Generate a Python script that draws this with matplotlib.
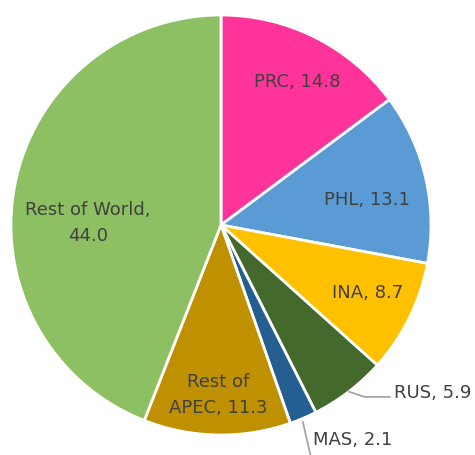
import numpy as np
import matplotlib.pyplot as plt

# data
names = ["PRC", "PHL", "INA", "RUS", "MAS", "Rest of\nAPEC", "Rest of World,\n"]
values = np.array([14.8, 13.1, 8.7, 5.9, 2.1, 11.3, 44.0])
colors = ["#FF3399", "#5B9BD5", "#FFC000", "#436A2C", "#255E91", "#BF9000", "#8DC062"]

# label placement: radius fraction and angle tweak (deg); None = outside with leader
lab_r = [0.774, 0.706, 0.77, None, None, 0.81, 0.633]
lab_da = [-1.4, -3.4, 1.4, 0, 0, 0, 10]

fig = plt.figure(figsize=(4.75, 4.55), dpi=100)
ax = fig.add_axes([11 / 475, 20 / 455, 420 / 475, 420 / 455])

wedges, _ = ax.pie(values, colors=colors, startangle=90, counterclock=False,
                   radius=1.0, wedgeprops=dict(edgecolor="white", linewidth=2))
ax.set_xlim(-1, 1)
ax.set_ylim(-1, 1)
ax.set_aspect("equal")
ax.axis("off")

txt = "#404040"
fs = 13


def make_label(i):
    n = names[i]
    if n.endswith("\n"):
        return f"{n}{values[i]:.1f}"
    return f"{n}, {values[i]:.1f}"


for i, w in enumerate(wedges):
    if lab_r[i] is None:
        continue
    mid = np.radians((w.theta1 + w.theta2) / 2 + lab_da[i])
    r = lab_r[i]
    ax.text(r * np.cos(mid), r * np.sin(mid), make_label(i), ha="center", va="center",
            fontsize=fs, color=txt, linespacing=1.55)


# leader lines for the small slices
def edge(w):
    a = np.radians((w.theta1 + w.theta2) / 2)
    return np.cos(a), np.sin(a)


x0, y0 = edge(wedges[3])
ax.plot([x0, x0 + 0.075, x0 + 0.195], [y0, y0 - 0.025, y0 - 0.025],
        color="#A6A6A6", lw=1.3, clip_on=False)
ax.text(x0 + 0.215, y0 - 0.005, make_label(3), ha="left", va="center",
        fontsize=fs, color=txt, clip_on=False)

x1, y1 = edge(wedges[4])
ax.plot([x1 - 0.002, x1 + 0.04], [y1 - 0.018, y1 - 0.2],
        color="#A6A6A6", lw=1.3, clip_on=False)
ax.text(x1 + 0.046, y1 - 0.104, make_label(4), ha="left", va="center",
        fontsize=fs, color=txt, clip_on=False)

fig.savefig("out.png", dpi=100)
